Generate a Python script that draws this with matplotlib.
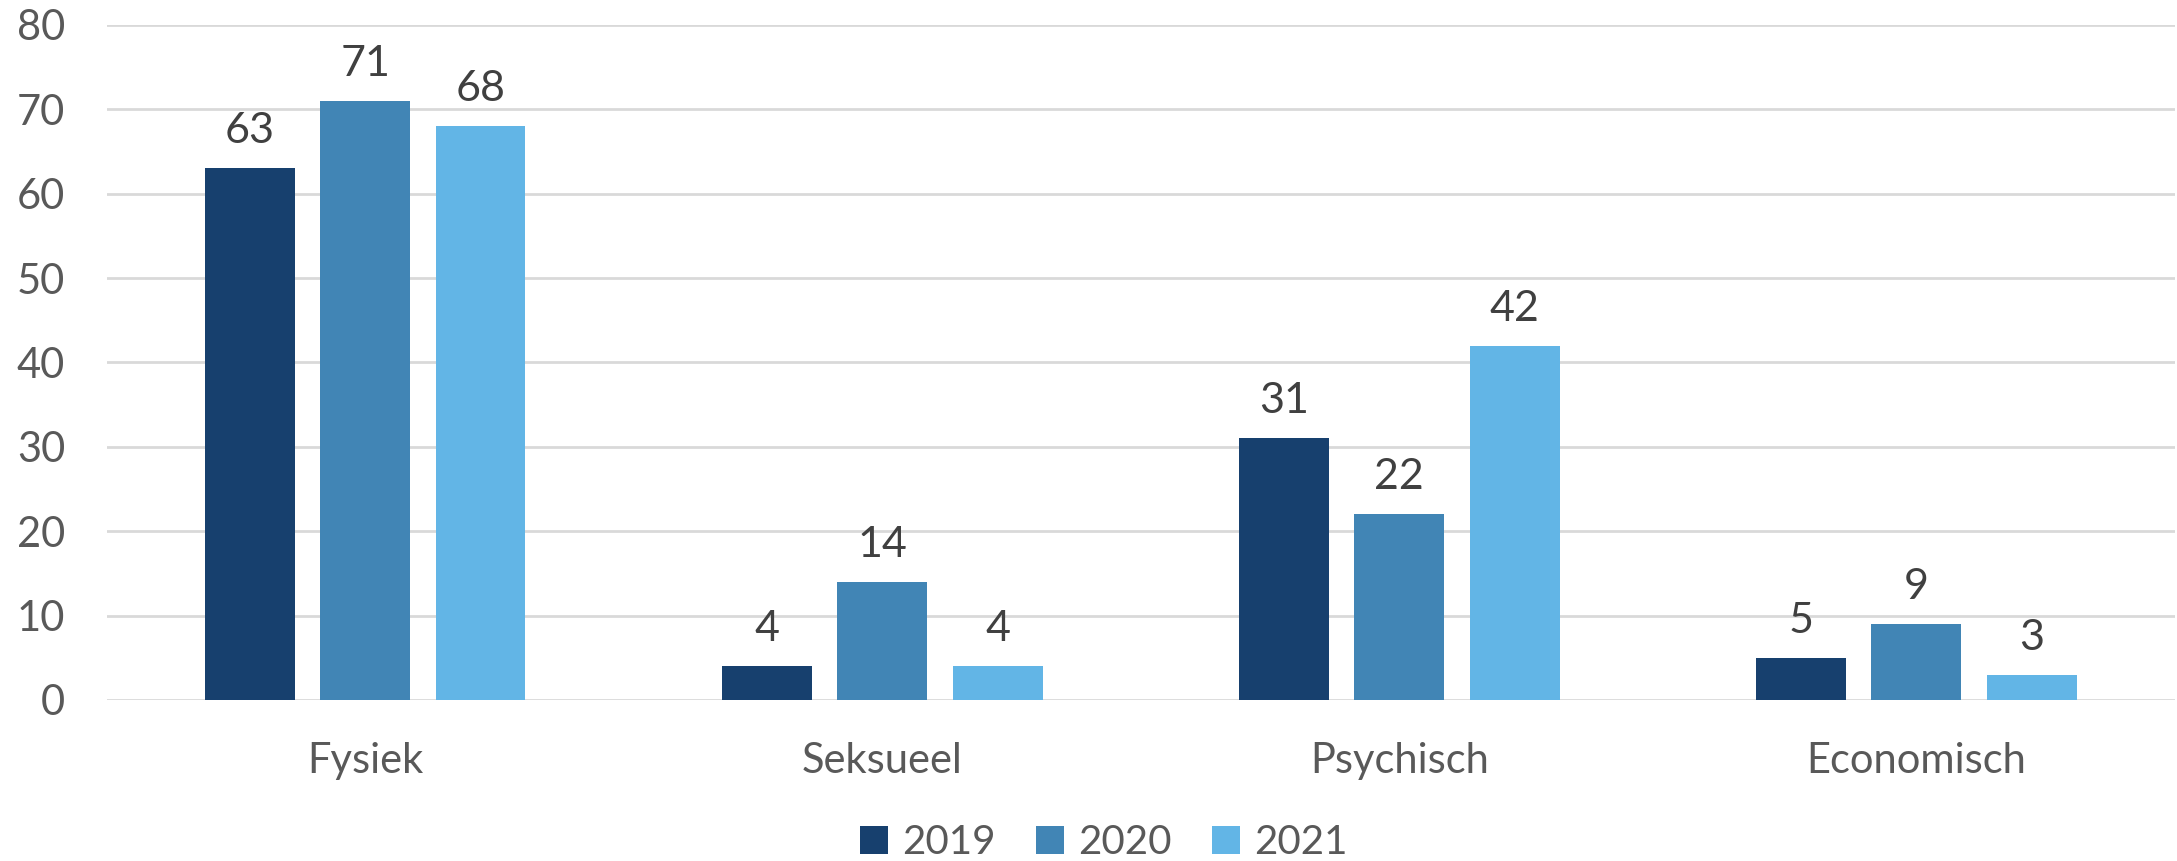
import numpy as np
from matplotlib import pyplot as plt
from matplotlib.patches import Patch

categorieen = ['Fysiek', 'Seksueel', 'Psychisch', 'Economisch']
jaren = ['2019', '2020', '2021']
waarden_2019 = [63, 4, 31, 5]
waarden_2020 = [71, 14, 22, 9]
waarden_2021 = [68, 4, 42, 3]
kleuren = ['#17406E', '#4185B5', '#62B5E6']

plt.rcParams['font.family'] = ['Lato', 'DejaVu Sans']

fig = plt.figure(figsize=(21.77, 8.61), dpi=100)
ax = fig.add_axes([0.049, 0.187, 0.95, 0.784])

x = np.arange(len(categorieen))
breedte = 0.174
stap = 0.223

for i, (jaar, waarden) in enumerate(zip(jaren, [waarden_2019, waarden_2020, waarden_2021])):
    posities = x + (i - 1) * stap
    ax.bar(posities, waarden, breedte, color=kleuren[i], zorder=3)
    for px, w in zip(posities, waarden):
        ax.annotate(str(w), (px, w), xytext=(0, 18), textcoords='offset points',
                    ha='center', va='baseline', fontsize=31, color='#404040')

ax.set_xlim(-0.5, len(categorieen) - 0.5)
ax.set_ylim(0, 80)
ax.set_yticks(range(0, 81, 10))
ax.set_xticks(x)
ax.set_xticklabels(categorieen)
ax.tick_params(axis='both', length=0, labelsize=30, labelcolor='#595959')
ax.tick_params(axis='x', pad=30)
ax.tick_params(axis='y', pad=30)
ax.grid(axis='y', color='#D9D9D9', linewidth=2, zorder=0)
for s in ax.spines.values():
    s.set_visible(False)

handles = [Patch(facecolor=k) for k in kleuren]
fig.legend(handles, jaren, loc='center', bbox_to_anchor=(0.507, 0.021), ncol=3,
           frameon=False, fontsize=29, handlelength=0.7, handleheight=0.7,
           handletextpad=0.35, columnspacing=1.0, labelcolor='#595959')

fig.savefig('out.png', dpi=100)
